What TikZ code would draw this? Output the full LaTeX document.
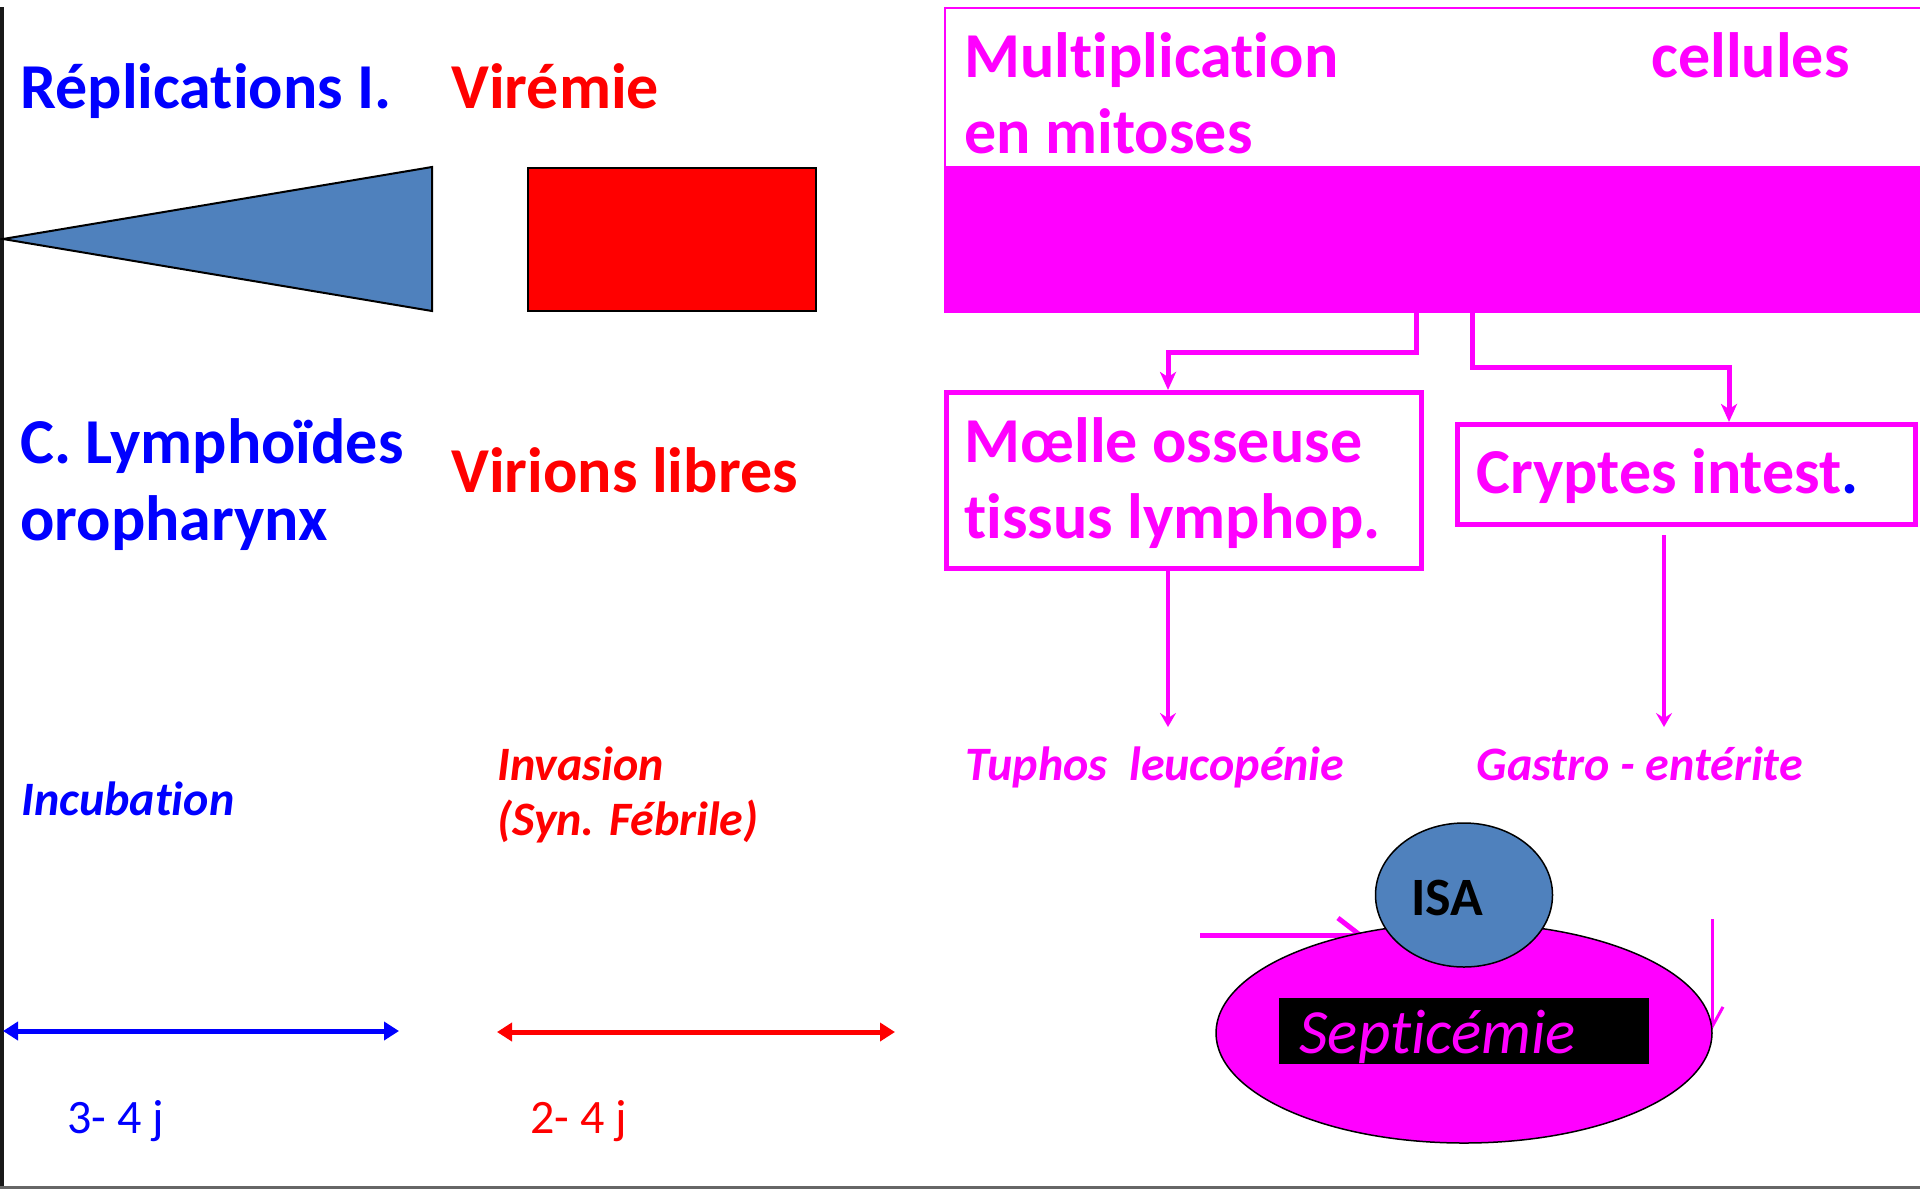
\documentclass[tikz,border=0pt]{standalone}
\usepackage{fontspec}
\setmainfont[Ligatures=NoCommon]{Carlito}
\usetikzlibrary{arrows.meta,shapes.geometric}
\definecolor{mag}{RGB}{255,0,255}
\definecolor{blu}{RGB}{0,0,255}
\definecolor{rd}{RGB}{255,0,0}
\definecolor{steel}{RGB}{79,129,189}
\begin{document}
\begin{tikzpicture}[x=0.5pt,y=-0.5pt,
  txt/.style={inner sep=0pt, anchor=base west},
  big/.style={txt,font=\fontsize{32}{38}\selectfont\bfseries},
  mid/.style={txt,font=\fontsize{24}{29}\selectfont\bfseries\itshape},
  dur/.style={txt,font=\fontsize{24}{29}\selectfont},
  pconn/.style={draw=mag,line width=2.5pt,-{Stealth[length=9pt,width=8pt,inset=2.5pt]}},
  pdown/.style={draw=mag,line width=1.6pt,-{Stealth[length=7pt,width=8pt,inset=2.5pt]}},
  pbox/.style={draw=mag,line width=2.5pt,inner sep=0pt},
  dbl/.style={line width=2.5pt,{Triangle[length=7.5pt,width=9pt]}-{Triangle[length=7.5pt,width=9pt]}},
  oval/.style={ellipse,draw=black,line width=0.75pt,inner sep=0pt}
]
\useasboundingbox (0,0) rectangle (1920,1189);
% frame lines
\draw[line width=1.8pt, black!90] (2,7) -- (2,1189);
\draw[line width=1.5pt, black!60] (0,1187) -- (1920,1187);
% shapes top row
\draw[fill=steel, line width=1pt] (3,239) -- (432,167) -- (432,311) -- cycle;
\draw[fill=rd, line width=1pt] (528,168) rectangle (816,311);
\node[draw=mag, line width=1pt, fill=white, minimum width=488pt, minimum height=79.5pt, inner sep=0pt, anchor=north west] (mbox) at (944,7) {};
\node[fill=mag, draw=mag, minimum width=488pt, minimum height=73pt, inner sep=0pt, anchor=north west] (bar) at (944,166) {};
% texts
\node[big,blu] (rep) at (20,108) {Réplications I.};
\node[big,rd] (vir) at (451,108) {Virémie};
\node[big,mag] (mul) at (964,77) {Multiplication};
\node[big,mag] (cel) at (1651,77) {cellules};
\node[big,mag] (mit) at (964,153) {en mitoses};
\node[big,blu] (ly1) at (20,463) {C. Lymphoïdes};
\node[big,blu] (ly2) at (20,540) {oropharynx};
\node[big,rd] (vl) at (451,492) {Virions libres};
% boxes
\node[pbox, minimum width=237.5pt, minimum height=88pt] (moelle) at (1184,480.5) {};
\node[pbox, minimum width=229pt, minimum height=50pt] (crypt) at (1686.5,474.5) {};
\node[big,mag] (mo1) at (964,462) {Mœlle osseuse};
\node[big,mag] (mo2) at (964,538) {tissus lymphop.};
\node[big,mag] (cr) at (1476,493) {Cryptes intest{\color{blu}.}};
% connectors
\draw[pconn] ([xshift=-8pt]bar.south) -- ++(0,40) -| ([xshift=-8pt]moelle.north);
\draw[pconn] ([xshift=20pt]bar.south) -- ++(0,55) -| ([xshift=21.25pt]crypt.north);
\coordinate (t1) at (1168,727);
\coordinate (c0) at (1664,535);
\coordinate (t2) at (1664,727);
\draw[pdown] ([xshift=-8pt]moelle.south) -- (t1);
\draw[pdown] (c0) -- (t2);
% lower texts
\node[mid,blu] (inc) at (21,815) {Incubation};
\node[mid,rd] (inv1) at (497,780) {Invasion};
\node[mid,rd] (inv2) at (497,835) {(Syn. Fébrile)};
\node[mid,mag] (tup) at (965,780) {Tuphos\ \ leucopénie};
\node[mid,mag] (gas) at (1476,780) {Gastro - entérite};
% durations
\coordinate (a1) at (3,1031);
\coordinate (a2) at (399,1031);
\coordinate (b1) at (497,1032);
\coordinate (b2) at (895,1032);
\draw[dbl,blu] (a1) -- (a2);
\draw[dbl,rd] (b1) -- (b2);
\node[dur,blu] (d1) at (67,1133) {3- 4 j};
\node[dur,rd] (d2) at (530,1133) {2- 4 j};
% septicemie group
\coordinate (s0) at (1200,935);
\coordinate (s1) at (1364,935);
\coordinate (r0) at (1712,919);
\coordinate (r1) at (1712,1030);
\draw[mag,line width=2.5pt,-{Straight Barb[length=11pt,width=17pt]}] (s0) -- (s1);
\draw[mag,line width=1.5pt,-{Straight Barb[length=10pt,width=11pt]}] (r0) -- (r1);
\node[oval, fill=mag, minimum width=248pt, minimum height=110pt] (sep) at (1464,1033) {};
\node[fill=black, minimum width=185pt, minimum height=33pt, inner sep=0pt] (blk) at (1464,1031) {};
\node[txt, font=\fontsize{31.5}{37}\selectfont\itshape, mag] (septxt) at (1299,1053) {Septicémie};
\node[oval, fill=steel, minimum width=88.5pt, minimum height=72pt] (isa) at (1464,895) {};
\node[font=\fontsize{27}{32}\selectfont\bfseries, inner sep=0pt] (isatxt) at (1447,898) {ISA};
\end{tikzpicture}
\end{document}
